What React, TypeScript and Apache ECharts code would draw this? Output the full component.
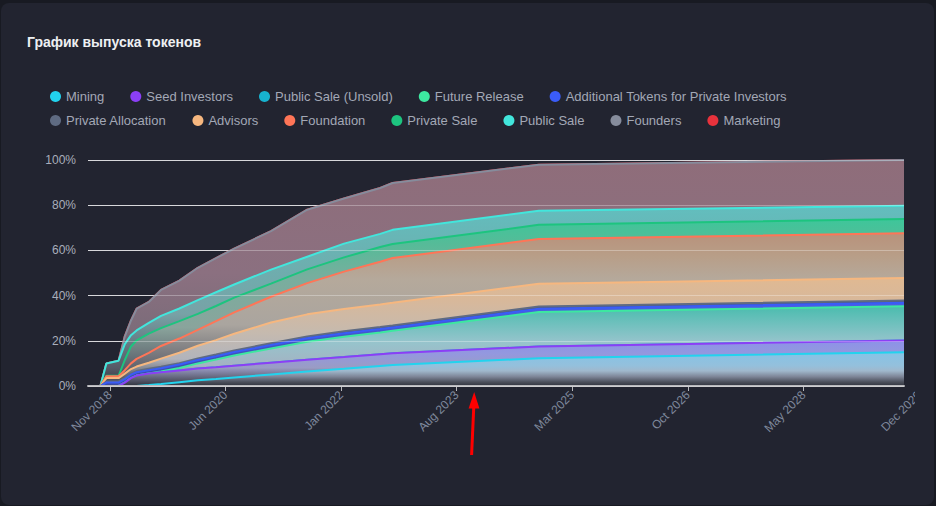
import React, { useEffect, useRef } from 'react';
import * as echarts from 'echarts';

// ---- data ----
const dates = [
  '2018-07-15', '2018-09-15', '2018-10-15', '2018-12-15', '2019-01-15', '2019-02-15', '2019-03-15',
  '2019-05-15', '2019-07-15', '2019-10-15', '2020-01-15', '2020-04-15', '2020-07-15', '2021-01-15',
  '2021-07-15', '2022-01-15', '2022-07-15', '2022-09-15', '2024-09-15', '2029-09-15',
];

const tickDates = ['2018-11-01', '2020-06-01', '2022-01-01', '2023-08-01', '2025-03-01', '2026-10-01', '2028-05-01'];
const overflowTickDate = '2029-12-01';
const yTicks = [0, 20, 40, 60, 80, 100];

const seriesNames = [
  'Mining', 'Seed Investors', 'Public Sale (Unsold)', 'Future Release', 'Additional Tokens for Private Investors',
  'Private Allocation', 'Advisors', 'Foundation', 'Private Sale', 'Public Sale', 'Founders', 'Marketing',
];

// share of total supply (%) unlocked per allocation at each date
const mining = [0, 0, 0, 0, 0, 0, 0, 0.4, 0.9, 1.7, 2.5, 3.1, 3.8, 5.1, 6.4, 7.6, 8.9, 9.3, 12.3, 14.9];
const seedInvestors = [0, 0, 0, 0, 1.5, 3.5, 4.6, 5.1, 5.2, 5.2, 5.2, 5.2, 5.2, 5.2, 5.2, 5.2, 5.2, 5.2, 5.2, 5.2];
const publicSaleUnsold = [0, 0, 0, 0, 0, 0, 0, 0, 0, 0, 0, 0, 0, 0, 0, 0, 0, 0, 0, 0];
const futureRelease = [0, 0, 0, 0, 0, 0, 0, 0, 0.3, 1.1, 2.3, 3.4, 4.5, 6.3, 8.0, 9.0, 9.6, 9.9, 15.2, 15.2];
const additionalTokens = [0, 0, 1.5, 1.5, 1.5, 1.5, 1.5, 1.5, 1.5, 1.5, 1.5, 1.5, 1.5, 1.5, 1.5, 1.5, 1.5, 1.5, 1.5, 1.5];
const privateAllocation = [0, 0, 0.5, 0.5, 0.5, 0.5, 0.5, 0.6, 0.6, 0.6, 0.7, 0.7, 0.7, 0.8, 0.8, 0.9, 0.9, 0.9, 1.0, 1.0];
const advisors = [0, 0, 1.5, 1.5, 2.0, 2.0, 2.0, 2.7, 3.6, 4.6, 5.6, 6.4, 7.4, 9.2, 9.8, 9.9, 10.0, 10.0, 10.0, 10.0];
const foundation = [0, 0, 0.8, 0.8, 1.5, 2.5, 3.4, 4.4, 5.6, 6.3, 7.0, 8.4, 9.5, 11.4, 13.8, 16.5, 18.9, 19.8, 19.8, 19.8];
const privateSale = [0, 0, 0.2, 0.2, 4.5, 7.5, 8.2, 8.5, 7.9, 7.7, 7.1, 6.7, 6.5, 5.8, 6.1, 6.3, 6.5, 6.2, 6.3, 6.3];
const publicSale = [0, 0, 5.5, 6.7, 7.0, 5.0, 4.4, 4.7, 5.4, 5.6, 6.1, 6.1, 5.8, 6.2, 5.6, 6.1, 5.8, 6.3, 6.2, 5.9];
const founders = [0, 0, 0, 0, 3.5, 6.5, 9.6, 9.3, 11.5, 12.3, 14.3, 15.1, 15.9, 17.0, 20.8, 20.0, 20.3, 20.7, 20.4, 20.2];
const marketing = [0, 0, 0, 0, 0, 0, 0, 0, 0, 0, 0, 0, 0, 0, 0, 0, 0, 0, 0, 0];

const seriesValues = [
  mining, seedInvestors, publicSaleUnsold, futureRelease, additionalTokens, privateAllocation,
  advisors, foundation, privateSale, publicSale, founders, marketing,
];

// ---- styles ----
const lineColors = [
  '#22d3ee', '#8b3ff6', '#17b2cf', '#3de8a0', '#3a5cf7', '#5f6b82',
  '#f6b77f', '#ff7557', '#1dc47f', '#42e6dc', '#868c9c', '#e8323c',
];

const DARK = '#30333d';
const fillStops: [number, string][][] = [
  [[0, '#86c3e6'], [0.4, '#94c0dc'], [0.55, '#a0b8cc'], [0.72, '#7e8698'], [0.88, '#4c505c'], [1, DARK]],
  [[0, '#8c92e8'], [0.3, '#9498de'], [0.6, '#9a9cc4'], [0.85, '#5a5c70'], [1, DARK]],
  [[0, '#3fa8c4'], [1, DARK]],
  [[0, '#4abcae'], [0.2, '#6cc0bc'], [0.45, '#96c4cc'], [0.75, '#a4b2c2'], [0.9, '#5a5e6c'], [1, DARK]],
  [[0, '#4a5fe6'], [1, '#3a4aa0']],
  [[0, '#4e5870'], [1, '#3a4050']],
  [[0, '#e0b992'], [0.2, '#d8b89a'], [0.5, '#c6baae'], [0.75, '#b2b4bc'], [0.92, '#5a5e6a'], [1, DARK]],
  [[0, '#b8927b'], [0.15, '#b89e88'], [0.3, '#b5a99b'], [0.6, '#aaa59f'], [0.9, '#5c5f6a'], [1, DARK]],
  [[0, '#3ec69a'], [0.15, '#56bb98'], [0.35, '#78ae9e'], [0.65, '#8aa49c'], [0.9, '#585c68'], [1, DARK]],
  [[0, '#62bebe'], [0.3, '#6cb0b0'], [0.6, '#78a2a6'], [0.9, '#565a66'], [1, DARK]],
  [[0, '#8f6d7a'], [0.5, '#8b7080'], [0.75, '#7c6c7a'], [0.92, '#50505e'], [1, DARK]],
  [[0, '#a04650'], [1, DARK]],
];

const MONTHS = ['Jan', 'Feb', 'Mar', 'Apr', 'May', 'Jun', 'Jul', 'Aug', 'Sep', 'Oct', 'Nov', 'Dec'];
const ts = (s: string) => Date.parse(s + 'T00:00:00Z');
const fmt = (v: number) => {
  const d = new Date(v);
  return MONTHS[d.getUTCMonth()] + ' ' + d.getUTCFullYear();
};

const FONT = 'Liberation Sans, Arial, Helvetica, sans-serif';

export default function App() {
  const ref = useRef<HTMLDivElement>(null);

  useEffect(() => {
    if (!ref.current) return;
    const chart = echarts.init(ref.current, undefined, { renderer: 'svg' });
    const xs = dates.map(ts);
    const tickValues = tickDates.map(ts);

    // stacked totals (running sum of the allocations, bottom to top)
    const stacked: number[][] = [];
    seriesValues.forEach((vals, i) => {
      stacked.push(vals.map((v, j) => Math.round(((i > 0 ? stacked[i - 1][j] : 0) + v) * 100) / 100));
    });

    const series = seriesNames.map((name, i) => ({
      name,
      type: 'line',
      z: 3 + (seriesNames.length - 1 - i),
      symbol: 'none',
      showSymbol: false,
      lineStyle: { width: 2, color: lineColors[i] },
      itemStyle: { color: lineColors[i] },
      areaStyle: {
        opacity: 1,
        origin: 'start',
        color: new echarts.graphic.LinearGradient(
          0, 0, 0, 1,
          fillStops[i].map(([offset, color]) => ({ offset, color }))
        ),
      },
      emphasis: { disabled: true },
      data: xs.map((x, j) => [x, stacked[i][j]]),
    }));

    const legendCommon = {
      left: 50,
      padding: 0,
      orient: 'horizontal',
      icon: 'circle',
      itemWidth: 11,
      itemHeight: 11,
      itemGap: 26,
      selectedMode: false,
      textStyle: { color: '#a3a8b6', fontSize: 13, fontFamily: FONT },
    };

    chart.setOption({
      animation: false,
      backgroundColor: 'transparent',
      textStyle: { fontFamily: FONT },
      title: {
        text: 'График выпуска токенов',
        left: 27,
        top: 35,
        padding: 0,
        textStyle: { color: '#eef0f3', fontSize: 14, fontWeight: 'bold', fontFamily: FONT },
      },
      legend: [
        { ...legendCommon, top: 90, data: seriesNames.slice(0, 5) },
        { ...legendCommon, top: 114, data: seriesNames.slice(5) },
      ],
      grid: { left: 88, right: 11, top: 160, bottom: 120, containLabel: false },
      xAxis: {
        type: 'value',
        min: xs[0],
        max: xs[xs.length - 1],
        z: 25,
        axisLine: { show: true, lineStyle: { color: '#b8b8bc', width: 2 } },
        axisTick: { show: true, length: 5, customValues: tickValues, lineStyle: { color: '#b8b8bc', width: 1 } },
        axisLabel: {
          customValues: tickValues,
          formatter: fmt,
          rotate: 45,
          margin: 7,
          color: '#7f889c',
          fontSize: 12,
          fontFamily: FONT,
        },
        splitLine: { show: false },
      },
      yAxis: [
        {
          type: 'value',
          min: yTicks[0],
          max: yTicks[yTicks.length - 1],
          interval: 20,
          axisLine: { show: false },
          axisTick: { show: false },
          axisLabel: { formatter: '{value}%', color: '#a9aebb', fontSize: 12, margin: 12, fontFamily: FONT },
          splitLine: { show: true, lineStyle: { color: '#c8c8cc', width: 1 } },
        },
        {
          type: 'value',
          min: yTicks[0],
          max: yTicks[yTicks.length - 1],
          interval: 20,
          z: 30,
          axisLine: { show: false },
          axisTick: { show: false },
          axisLabel: { show: false },
          splitLine: { show: true, lineStyle: { color: 'rgba(255,255,255,0.3)', width: 1 } },
        },
      ],
      series,
    });

    const overflowX = chart.convertToPixel({ xAxisIndex: 0 }, ts(overflowTickDate)) as number;
    const axisY = chart.convertToPixel({ yAxisIndex: 0 }, 0) as number;

    chart.setOption({
      graphic: [
        {
          type: 'text',
          x: overflowX,
          y: axisY + 7,
          rotation: Math.PI / 4,
          z: 30,
          style: {
            text: fmt(ts(overflowTickDate)),
            align: 'right',
            verticalAlign: 'middle',
            fill: '#7f889c',
            font: '12px ' + FONT,
          },
        },
        {
          type: 'line',
          z: 40,
          shape: { x1: 471.6, y1: 455, x2: 473.9, y2: 404 },
          style: { stroke: '#ff0000', lineWidth: 3 },
        },
        {
          type: 'polygon',
          z: 40,
          shape: { points: [[474.2, 392], [468.6, 408.5], [479.4, 408.5]] },
          style: { fill: '#ff0000' },
        },
      ],
    });

    return () => chart.dispose();
  }, []);

  return (
    <div style={{ position: 'fixed', left: 0, top: 0, width: 936, height: 506, background: '#181a22', overflow: 'hidden' }}>
      <div
        style={{
          position: 'absolute',
          left: 1,
          top: 3,
          width: 933,
          height: 502,
          background: '#222430',
          borderRadius: 8,
        }}
      />
      <div ref={ref} style={{ position: 'absolute', left: 0, top: 0, width: 915, height: 506, overflow: 'hidden' }} />
    </div>
  );
}
